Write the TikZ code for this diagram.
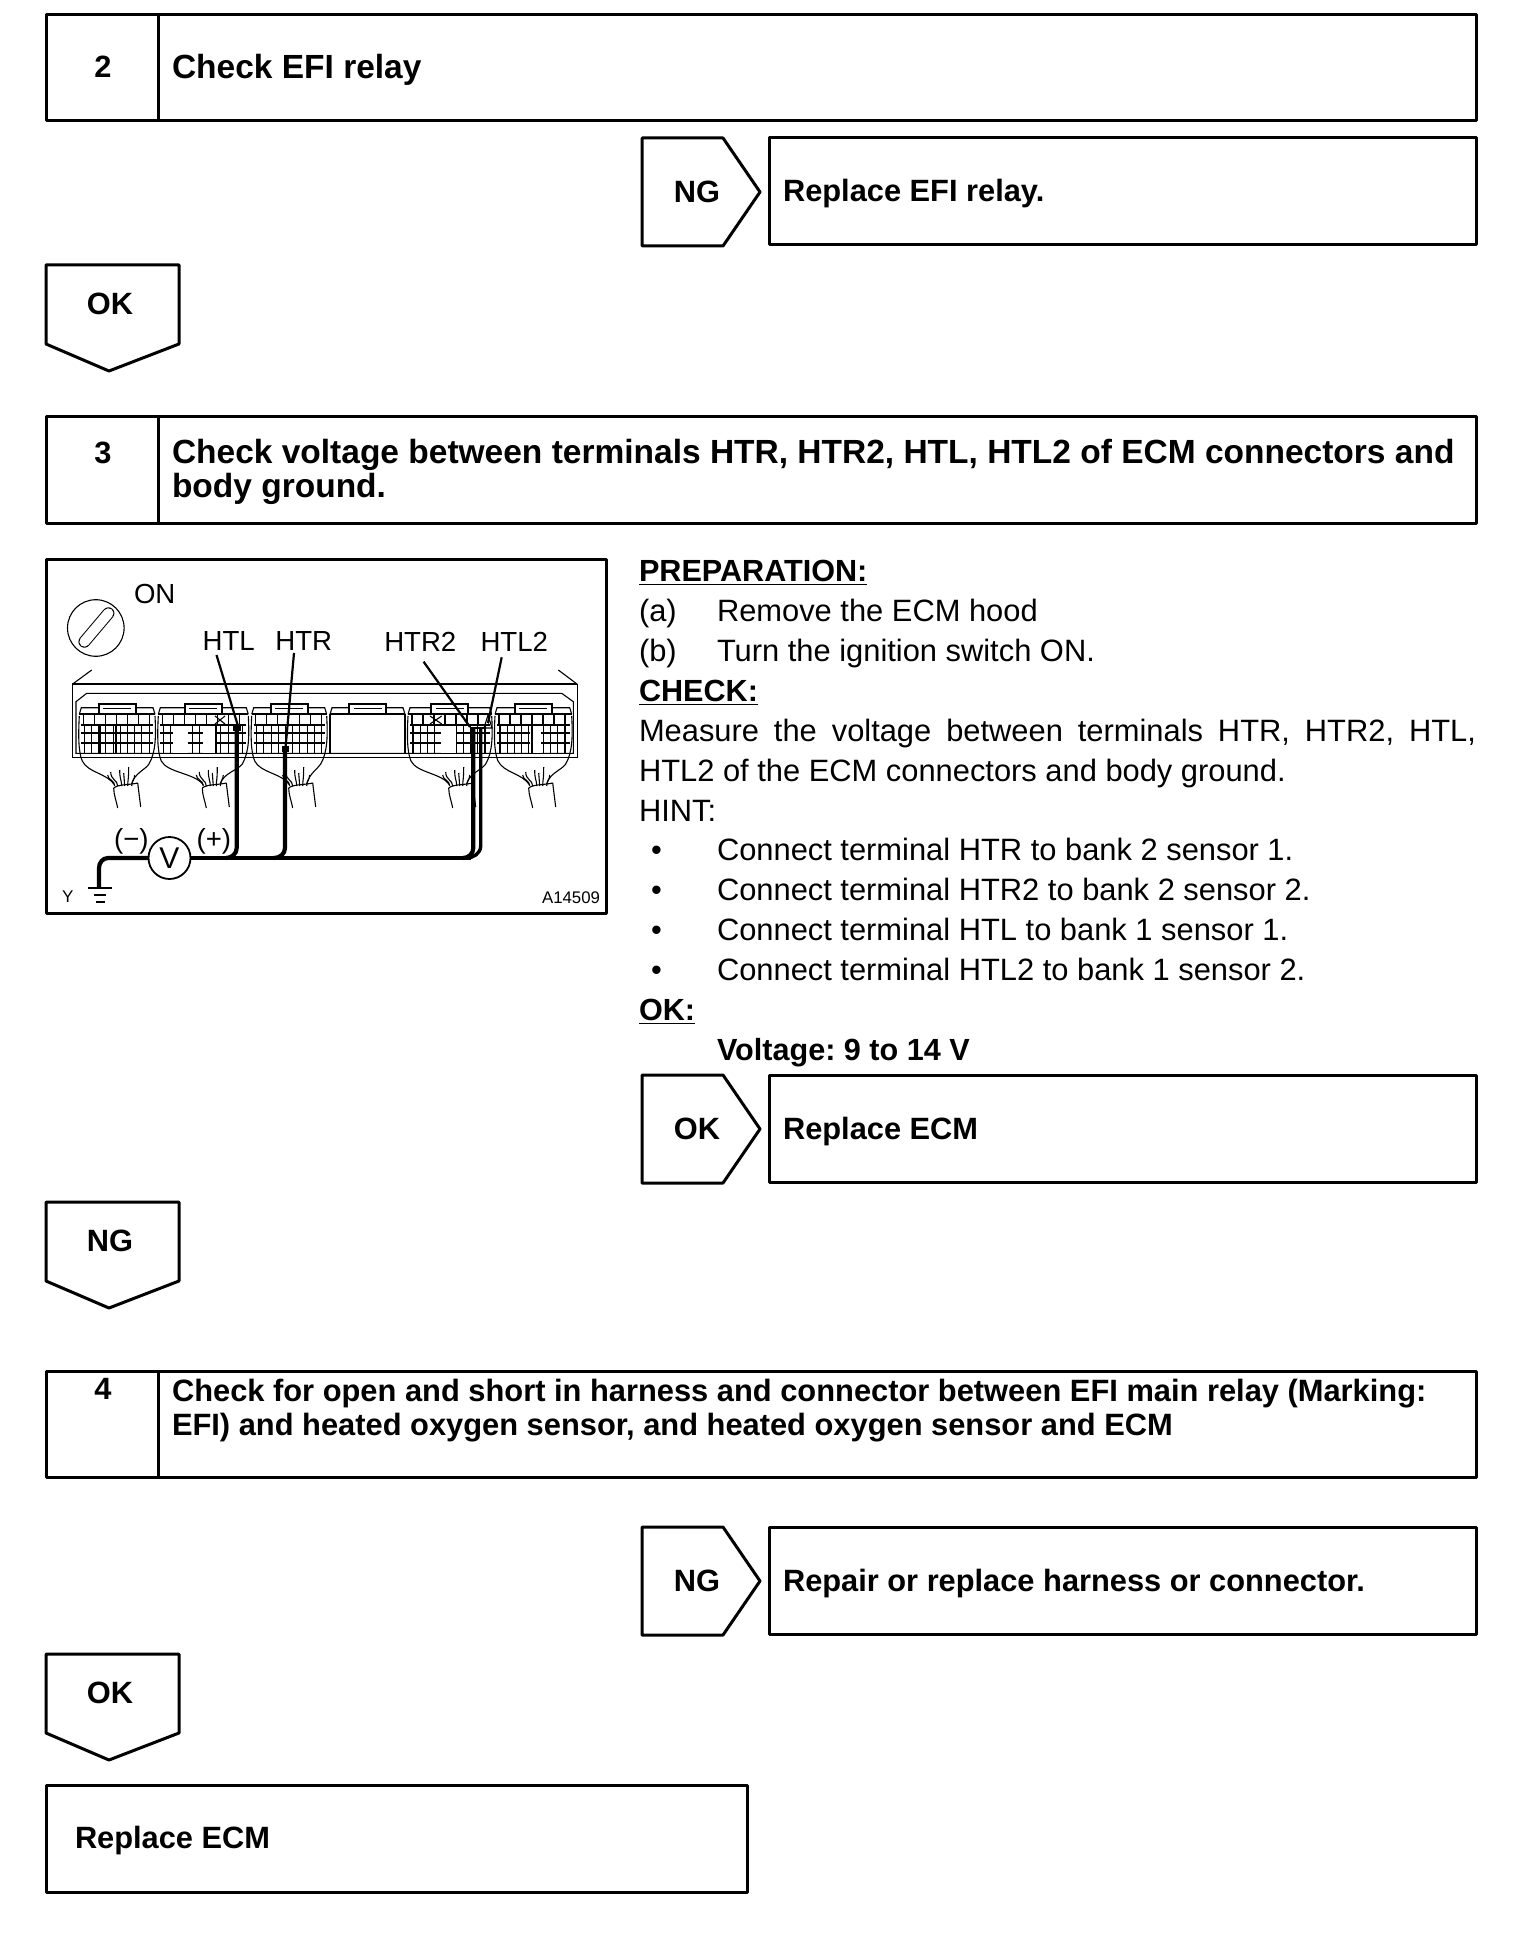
\documentclass[tikz,border=0pt]{standalone}
\usepackage{fontspec}
\setmainfont{Liberation Sans}
\tikzstyle{every node}=[inner sep=0pt,outer sep=0pt]
\tikzstyle{frame}=[line width=1.5pt,line join=round]
\tikzstyle{thinline}=[line width=0.55pt]
\tikzstyle{medline}=[line width=0.9pt]
\tikzstyle{leader}=[line width=1.1pt]
\tikzstyle{probe}=[line width=2.1pt,line join=round]
\tikzstyle{headtext}=[font=\fontsize{16.75}{16.8}\selectfont\bfseries,anchor=base west,align=left]
\tikzstyle{tagtext}=[font=\fontsize{15.4}{16}\selectfont\bfseries]
\tikzstyle{bodytext}=[font=\fontsize{15.43}{16}\selectfont,anchor=base west]
\tikzstyle{boldtext}=[font=\fontsize{15.3}{16}\selectfont\bfseries,anchor=base west]
\tikzstyle{figtext}=[font=\fontsize{13.8}{14}\selectfont]
\begin{document}
\frenchspacing
\begin{tikzpicture}[x=0.5pt,y=-0.5pt]
% Check procedure page
	\newcommand\boxL{46} %left edge of step boxes
	\newcommand\boxR{1476} %right edge of all boxes
	\newcommand\boxD{158} %divider in step boxes
	\newcommand\tagL{642} %left edge of side tags
	\newcommand\resL{769} %left edge of result boxes
	\newcommand\boxH{106} %height of boxes
	% side tag with result box, #1 top, #2 tag text, #3 name, #4 result text
	\newcommand\sidetag[4]{
		\draw[frame] (\tagL,#1) -- ++(81,0) -- ++(37,54) -- ++(-37,54) -- ++(-81,0) -- cycle;
		\draw[frame] (\resL,#1) rectangle ++(\boxR-\resL,\boxH+1);
		\node[tagtext] (#3tag) at (697,#1+54) {#2};
		\node[tagtext,anchor=base west] (#3res) at (783,#1+64) {#4};
	}
	% down tag, #1 top, #2 tag text, #3 name
	\newcommand\downtag[3]{
		\draw[frame] (\boxL,#1) -- ++(133,0) -- ++(0,79) -- ++(-70,27) -- ++(-63,-27) -- cycle;
		\node[tagtext] (#3tag) at (110,#1+39) {#2};
	}
	% numbered step box, #1 top
	\newcommand\stepbox[1]{
		\draw[frame] (\boxL,#1) rectangle (\boxR,#1+\boxH);
		\draw[frame] (\boxD,#1) -- (\boxD,#1+\boxH);
	}
	\path[fill=white,use as bounding box] (0,0) rectangle (1536,1952);

	%% step 2
	\stepbox{15}
	\node[tagtext] (numtwo) at (103,67) {2};
	\node[headtext] (headtwo) at (172,79) {Check EFI relay};
	\sidetag{138}{NG}{relay}{Replace EFI relay.}
	\downtag{265}{OK}{oktwo}

	%% step 3
	\stepbox{417}
	\node[tagtext] (numthree) at (103,453) {3};
	\node[headtext] (headthree) at (172,497) {Check voltage between terminals HTR, HTR2, HTL, HTL2 of ECM connectors and\\body ground.};

	%% figure frame
	\draw[frame] (46,559) rectangle (606,913);
	\draw[thinline] (95.8,628) circle (28.3);
	\draw[line width=6pt,line cap=round] (84.4,641.7) -- (108.4,613.3);
	\draw[white,line width=5pt,line cap=round] (84.4,641.7) -- (108.4,613.3);
	\node[figtext] (on) at (154.7,593.5) {ON};
	\node[figtext] (HTL) at (228.7,641.5) {HTL};
	\node[figtext] (HTR) at (303.8,641.5) {HTR};
	\node[figtext] (HTRtwo) at (420.3,641.5) {HTR2};
	\node[figtext] (HTLtwo) at (514.3,641.5) {HTL2};

	%% ECM body
	\draw[thinline] (72.3,684.3) rectangle (577.3,757.3);
	\draw[medline] (72.3,684.3) -- (577.3,684.3);
	\draw[thinline] (72.3,684.3) -- (91.7,670);
	\draw[thinline] (577.3,684.3) -- (558.3,670);
	\draw[thinline] (76,753.3) -- (76,701.7) -- (86.7,693.3) -- (561.7,693.3) -- (573.3,701.7) -- (573.3,753.3) -- cycle;

	% connector plug, #1 left, #2 right, #3 neck
	\newcommand\plughood[2]{
		\draw[thinline] (#1,714.3) -- (#1+2,707.7) -- ({(#1+#2)/2-18.5},707.7);
		\draw[thinline] ({(#1+#2)/2+18.5},707.7) -- (#2-2,707.7) -- (#2,714.3);
		\draw[medline] ({(#1+#2)/2-18.5},714.3) -- ({(#1+#2)/2-18.5},704.3) -- ({(#1+#2)/2+18.5},704.3) -- ({(#1+#2)/2+18.5},714.3);
		\draw[thinline] ({(#1+#2)/2-14},708.5) -- ({(#1+#2)/2+14},708.5);
		\draw[medline] (#1,714.3) -- (#2,714.3);
	}
	\newcommand\plug[3]{
		\plughood{#1}{#2}
		\draw[medline] (#1+2,725) -- (#2-2,725);
		\begin{scope}
			\clip (#1+3,714) rectangle (#2-3,753.5);
			\foreach \n in {0,...,8}
				\draw[thinline] ({#1+4+\n*11},714.3) -- ({#1+4+\n*11},725);
			\foreach \n in {0,...,13}
				\draw[thinline] ({#1+5+\n*7.2},725) -- ({#1+5+\n*7.2},753.3);
		\end{scope}
		\foreach \rowy in {733,743,753.3}
			\draw[thinline] (#1+2,\rowy) -- (#2-2,\rowy);
		\draw[thinline] (#1,716) .. controls (#1-1,735) and (#1-1,752) .. (#1+3,761) .. controls (#1+9,773) and (#3-15,773) .. (#3-7,785);
		\draw[thinline] (#2,716) .. controls (#2+1,735) and (#2+1,752) .. (#2-6,764) .. controls (#2-10,770) and (#3+13,773) .. (#3+10,784);
		\draw[thinline] (#3-8,788) .. controls (#3-3,784) and (#3+8,785) .. (#3+16,783);
		\draw[thinline] (#3-8,788) .. controls (#3-8,795) and (#3-5,802) .. (#3-4,808);
		\draw[thinline] (#3+16,783) -- (#3+19,807);
		\foreach \wa/\wb/\wc in {-7/-14/775,-4/-11/772,0/-2/770,3/2/773,6/7/767,10/13/775}
			\draw[thinline] (#3+\wa,786) .. controls (#3+\wa,780) and (#3+\wb,780) .. (#3+\wb,\wc);
	}
	\plug{79.3}{155}{121.7}
	\plug{158.3}{248.3}{210.3}
	\plug{251.7}{326.7}{296.7}
	\plughood{330}{405}
	\draw[thinline] (330,714.3) -- (330,753.3) -- (405,753.3) -- (405,714.3);
	\plug{408}{491.7}{456.7}
	\plug{495}{571.7}{536.7}

	%% blank cavities and crossed cavities
	\foreach \bl/\br in {173/188,203/217,441/456,530/541}
		\fill[white] (\bl,726) rectangle (\br,752.5);
	\draw[thinline] (215,716) -- (225,724) (215,724) -- (225,716);
	\draw[thinline] (430,716) -- (441.7,724) (430,724) -- (441.7,716);
	\draw[medline] (100,725) -- (100,753) (116,725) -- (116,753) (216,725) -- (216,753) (565,725) -- (565,753) (532,725) -- (532,753);
	\draw[thinline] (484,728) -- (488,715) -- (492,728) -- cycle;

	%% leaders
	\coordinate (HTLtip) at (238,726);
	\coordinate (HTRtip) at (285.5,748);
	\coordinate (HTRtwotip) at (470,727);
	\coordinate (HTLtwotip) at (488,723);
	\draw[leader] (216.5,655) -- (HTLtip);
	\draw[leader] (294,653) -- (HTRtip);
	\draw[leader] (423.6,661.7) -- (HTRtwotip);
	\draw[leader] (501.7,657.3) -- (HTLtwotip);

	%% meter and probes
	\node[draw,circle,line width=0.9pt,minimum size=21pt,font=\fontsize{15}{16}\selectfont] (meter) at (169.5,858) {V};
	\coordinate (gnd) at (99,888);
	\coordinate (busR) at (471,858);
	\draw[probe] (meter.west) -- (108,858) to [out=180,in=90] (99,868) -- (gnd);
	\draw[probe] (meter.east) -- (busR);
	\draw[probe] (236.7,728) -- (236.7,848) to [out=-90,in=0] (226,858);
	\draw[probe] (285,748) -- (285,848) to [out=-90,in=0] (274,858);
	\draw[probe] (473.3,728) -- (473.3,848) to [out=-90,in=0] (463,858);
	\draw[probe,line width=1.7pt] (480.7,728) -- (480.7,846) to [out=-90,in=0] (466,858);
	\draw[probe,line width=1.3pt] (470,728) -- (484,728);
	\fill (233,724) rectangle (240.5,731);
	\fill (281.5,746) rectangle (288.5,752);
	\node[figtext] (minus) at (131.4,841.5) {(−)};
	\node[figtext] (plus) at (213.9,841.5) {(+)};
	\draw[medline] (88,888) -- (112,888);
	\draw[thinline] (93.6,895) -- (105.9,895);
	\draw[medline] (95.5,901.7) -- (104.7,901.7);
	\node[font=\fontsize{8.5}{9}\selectfont] (ygnd) at (67.7,897) {Y};
	\node[font=\fontsize{8.4}{9}\selectfont] (figno) at (571,898) {A14509};

	%% text column
	\newcommand\colL{639} %left edge of text column
	\newcommand\colI{717} %indent of text column
	\node[boldtext] (prep) at (\colL,581) {\underline{PREPARATION:}};
	\node[bodytext] (itema) at (\colL,621) {(a)};
	\node[bodytext] (itemaT) at (\colI,621) {Remove the ECM hood};
	\node[bodytext] (itemb) at (\colL,661) {(b)};
	\node[bodytext] (itembT) at (\colI,661) {Turn the ignition switch ON.};
	\node[boldtext] (check) at (\colL,701) {\underline{CHECK:}};
	\node[bodytext] (measA) at (\colL,741) {\makebox[418.5pt][s]{Measure the voltage between terminals HTR, HTR2, HTL,}};
	\node[bodytext] (measB) at (\colL,781) {HTL2 of the ECM connectors and body ground.};
	\node[bodytext] (hint) at (\colL,821) {HINT:};
	\foreach \ny/\nm/\ntxt in {860/hone/Connect terminal HTR to bank 2 sensor 1.,900/htwo/Connect terminal HTR2 to bank 2 sensor 2.,940/hthree/Connect terminal HTL to bank 1 sensor 1.,980/hfour/Connect terminal HTL2 to bank 1 sensor 2.}{
		\node[bodytext] (\nm dot) at (651,\ny) {•};
		\node[bodytext] (\nm) at (\colI,\ny) {\ntxt};
	}
	\node[boldtext] (okhead) at (\colL,1020) {\underline{OK:}};
	\node[boldtext] (volt) at (\colI,1060) {Voltage: 9 to 14 V};
	\sidetag{1075}{OK}{ecm}{Replace ECM}
	\downtag{1202}{NG}{ngthree}

	%% step 4
	\stepbox{1371}
	\node[tagtext] (numfour) at (103,1389) {4};
	\node[headtext,font=\fontsize{15.42}{16.8}\selectfont\bfseries] (headfour) at (172,1435) {Check for open and short in harness and connector between EFI main relay (Marking:\\EFI) and heated oxygen sensor, and heated oxygen sensor and ECM};
	\sidetag{1527}{NG}{harness}{Repair or replace harness or connector.}
	\downtag{1654}{OK}{okfour}

	%% last result
	\draw[frame] (\boxL,1785) rectangle (747,1892);
	\node[tagtext,anchor=base west] (lastres) at (75,1848) {Replace ECM};
\end{tikzpicture}
\end{document}
